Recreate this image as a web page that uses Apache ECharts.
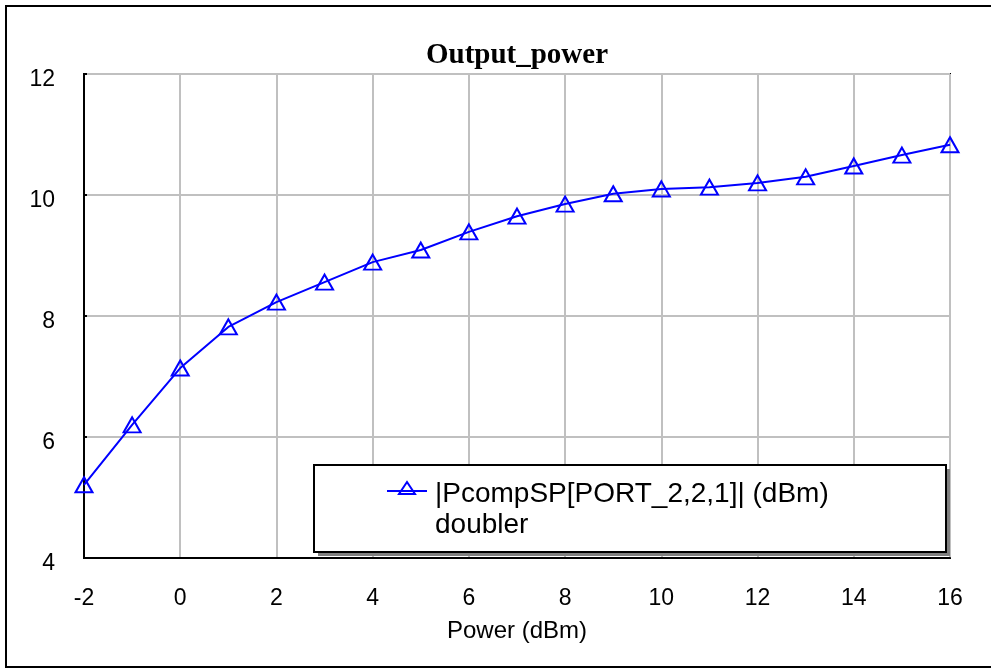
<!DOCTYPE html>
<html>
<head>
<meta charset="utf-8">
<script src="https://cdn.jsdelivr.net/npm/echarts@6/dist/echarts.min.js"></script>
<style>
html,body{margin:0;padding:0;background:#fff;}
#chart{width:991px;height:669px;}
</style>
</head>
<body>
<div id="chart"></div>
<script>
// Data
const powerIn = [-2,-1,0,1,2,3,4,5,6,7,8,9,10,11,12,13,14,15,16];
const outputPower = [5.21,6.20,7.14,7.82,8.23,8.56,8.89,9.09,9.39,9.65,9.85,10.02,10.10,10.13,10.20,10.30,10.48,10.66,10.83];
const seriesName = '|PcompSP[PORT_2,2,1]| (dBm)';
const seriesSub = 'doubler';
const chartTitle = 'Output_power';
const xAxisName = 'Power (dBm)';

const chart = echarts.init(document.getElementById('chart'), null, {renderer:'canvas'});
const sansFont = 'Liberation Sans, Arial, sans-serif';

const option = {
  backgroundColor: '#fff',
  animation: false,
  title: {
    text: chartTitle,
    left: 512, top: 36,
    textAlign: 'center',
    textStyle: { fontFamily: 'Liberation Serif, Times New Roman, serif', fontWeight: 'bold', fontSize: 29, color: '#000' }
  },
  grid: {
    left: 84, top: 74, right: 41, bottom: 111,
    show: true, borderColor: '#000', borderWidth: 2, backgroundColor: 'transparent'
  },
  xAxis: {
    type: 'value', min: -2, max: 16, interval: 2,
    name: xAxisName, nameLocation: 'middle', nameGap: 61,
    nameTextStyle: { fontFamily: sansFont, fontSize: 24, color: '#000' },
    axisLine: { show: true, onZero: false, lineStyle: { color: '#000', width: 2 } },
    axisTick: { show: false },
    axisLabel: { fontFamily: sansFont, fontSize: 23, color: '#000', margin: 29 },
    splitLine: { show: true, lineStyle: { color: '#c0c0c0', width: 2 } }
  },
  yAxis: {
    type: 'value', min: 4, max: 12, interval: 2,
    axisLine: { show: true, onZero: false, lineStyle: { color: '#000', width: 2 } },
    axisTick: { show: true, inside: true, length: 3, lineStyle: { color: '#000', width: 2 } },
    axisLabel: {
      margin: 29,
      formatter: v => '{a|' + v + '}',
      rich: { a: { fontFamily: sansFont, fontSize: 23, color: '#000', padding: [11, 0, 0, 0] } }
    },
    splitLine: { show: true, lineStyle: { color: '#c0c0c0', width: 2 } }
  },
  series: [{
    name: seriesName,
    type: 'line',
    data: powerIn.map((x, i) => [x, outputPower[i]]),
    symbol: 'triangle',
    symbolSize: [17, 15],
    showAllSymbol: true,
    clip: true,
    lineStyle: { color: '#0000ff', width: 2 },
    itemStyle: { color: 'rgba(255,255,255,0)', borderColor: '#0000ff', borderWidth: 2 },
    z: 3
  }],
  graphic: [
    { type: 'rect', z: 0, silent: true,
      shape: { x: 6, y: 6, width: 1000, height: 661 },
      style: { fill: 'none', stroke: '#000', lineWidth: 2 } },
    { type: 'rect', z: 10, silent: true,
      shape: { x: 318, y: 469, width: 632, height: 87 },
      style: { fill: '#808080', stroke: 'none' } },
    { type: 'rect', z: 11,
      shape: { x: 314, y: 465, width: 632, height: 87 },
      style: { fill: '#fff', stroke: '#000', lineWidth: 2 } },
    { type: 'line', z: 12,
      shape: { x1: 387, y1: 491, x2: 427, y2: 491 },
      style: { stroke: '#0000ff', lineWidth: 2 } },
    { type: 'polygon', z: 13,
      shape: { points: [[407, 482], [399, 494], [415, 494]] },
      style: { fill: 'none', stroke: '#0000ff', lineWidth: 2 } },
    { type: 'text', z: 13,
      style: { text: seriesName, x: 435, y: 494, font: '28px ' + sansFont, fill: '#000', align: 'left', verticalAlign: 'middle' } },
    { type: 'text', z: 13,
      style: { text: seriesSub, x: 435, y: 525, font: '28px ' + sansFont, fill: '#000', align: 'left', verticalAlign: 'middle' } }
  ]
};
chart.setOption(option);
</script>
</body>
</html>
